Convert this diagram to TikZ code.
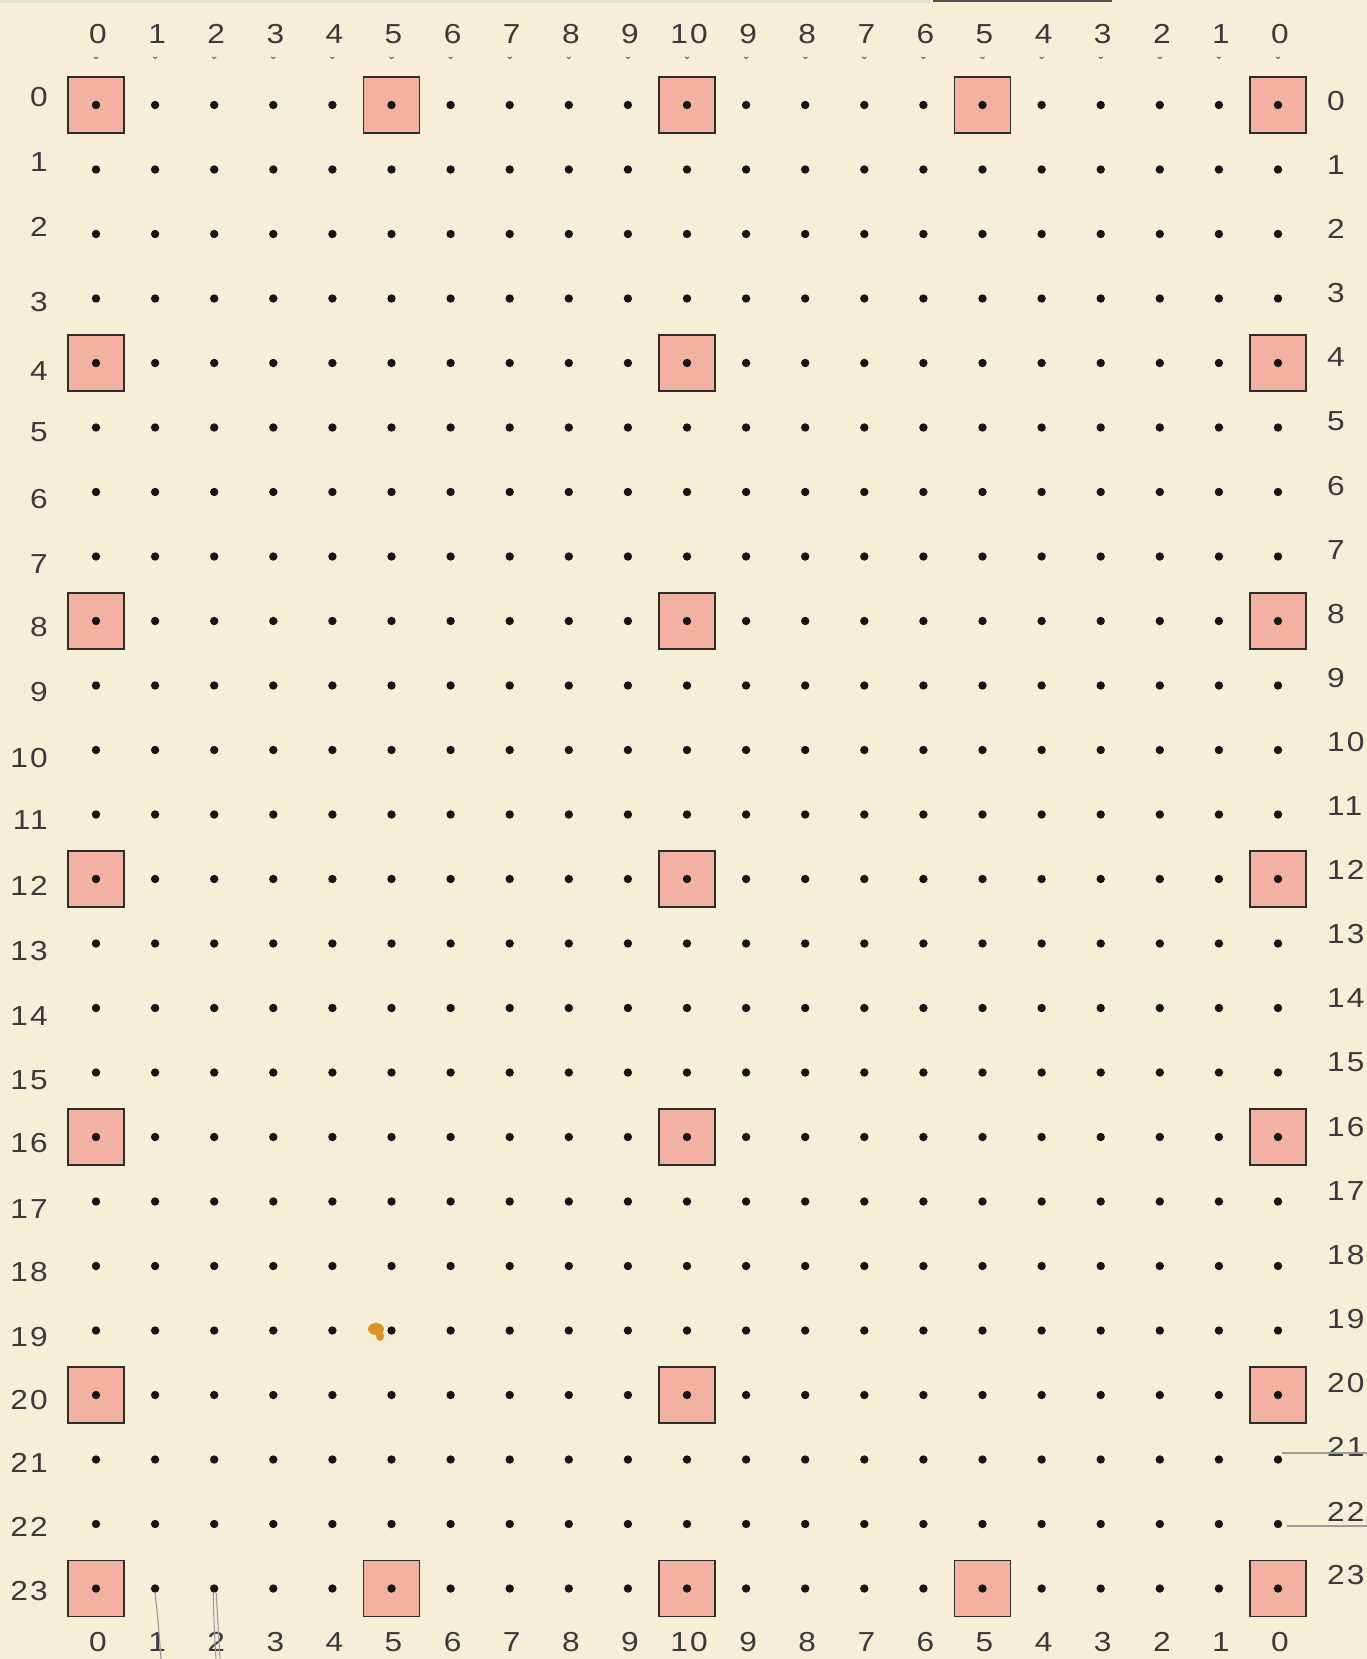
\documentclass[tikz,border=0pt]{standalone}
\usepackage{fontspec}
\setmainfont{Liberation Sans}[LetterSpace=8,FakeStretch=1.15]
\definecolor{paper}{HTML}{F7EED8}
\definecolor{sqfill}{HTML}{F3B1A1}
\definecolor{ink}{HTML}{161616}
\definecolor{txt}{HTML}{3A3A3A}
\definecolor{pencil}{HTML}{9C9C9C}
\definecolor{tint}{HTML}{DDE5C6}
\definecolor{spot}{HTML}{D8932C}
\tikzset{
  dot/.style={circle,fill=ink,inner sep=0pt,minimum size=8.4pt},
  redsq/.style={rectangle,draw=ink!90,line width=1.3pt,fill=sqfill,inner sep=0pt,minimum size=56pt},
  lab/.style={inner sep=0pt,text=txt,font=\fontsize{27.5}{30}\selectfont},
  tick/.style={draw=txt!80,line width=1pt},
  pencilline/.style={draw=pencil,line width=1.5pt},
  topbar/.style={draw=txt!90,line width=2.4pt}
}
\begin{document}
\begin{tikzpicture}[x=1pt,y=-1pt]
\useasboundingbox (0,0) rectangle (1367,1659);
\fill[paper] (0,0) rectangle (1367,1659);
\fill[tint] (0,0) rectangle (930,3);
% bar at top
\coordinate (bar-a) at (933,1.2);
\coordinate (bar-b) at (1112,1.2);
\draw[topbar] (bar-a) -- (bar-b);
% red squares
\foreach \c/\r in {0/0,5/0,10/0,15/0,20/0,
                   0/4,10/4,20/4, 0/8,10/8,20/8, 0/12,10/12,20/12,
                   0/16,10/16,20/16, 0/20,10/20,20/20,
                   0/23,5/23,10/23,15/23,20/23}{
  \node[redsq] (s-\c-\r) at ({96+59.1*\c},{105+64.5*\r}) {};
}
% orange spot near row 19, col 5
\fill[spot] (376,1329) ellipse (8pt and 6pt);
\fill[spot] (380,1336) ellipse (4pt and 5pt);
% dots
\foreach \c in {0,...,20}{
  \foreach \r in {0,...,23}{
    \node[dot] (d-\c-\r) at ({96+59.1*\c},{105+64.5*\r}) {};
  }
}
% column labels
\foreach \c in {0,...,20}{
  \pgfmathtruncatemacro\lab{\c<=10 ? \c : 20-\c}
  \node[lab] (t-\c) at ({96+59.1*\c+2},34) {\lab};
  \node[lab] (b-\c) at ({96+59.1*\c+2},1642) {\lab};
  \coordinate (tk-\c) at ({96+59.1*\c},57);
  \draw[tick] ([xshift=-2pt]tk-\c) .. controls ([xshift=-1pt,yshift=-2pt]tk-\c) and ([xshift=1pt,yshift=-2pt]tk-\c) .. ([xshift=2pt]tk-\c);
}
% row labels, left
\foreach \r/\dy in {0/-7.5,1/-7.5,2/-7,3/4,4/8,5/5,6/7,7/8,8/6,9/7,10/8,11/6,
                    12/7,13/8,14/8,15/8,16/6,17/8,18/6,19/7,20/5,21/3,22/3,23/3}{
  \node[lab,anchor=east] (l-\r) at (48,{105+64.5*\r+\dy}) {\r};
}
% row labels, right
\foreach \r in {0,...,23}{
  \node[lab,anchor=west] (rt-\r) at (1327,{105+64.5*\r-4-9*\r/23}) {\r};
}
% pencil lines at right
\coordinate (p21) at (1367,1453);
\coordinate (p22) at (1367,1526);
\draw[pencilline] (d-20-21.east |- p21) -- (p21);
\draw[pencilline] ([xshift=5pt]d-20-22.east |- p22) -- (p22);
% pencil lines at bottom
\coordinate (q1) at (161,1659);
\coordinate (q2a) at (216,1659);
\coordinate (q2b) at (220,1659);
\draw[pencilline,line width=1.2pt] (d-1-23.south) .. controls (158,1620) .. (q1);
\draw[pencilline,line width=1.1pt] ([xshift=-1pt]d-2-23.south) .. controls (214,1625) .. (q2a);
\draw[pencilline,line width=1.1pt] ([xshift=2pt]d-2-23.south) .. controls (218,1625) .. (q2b);
\end{tikzpicture}
\end{document}
